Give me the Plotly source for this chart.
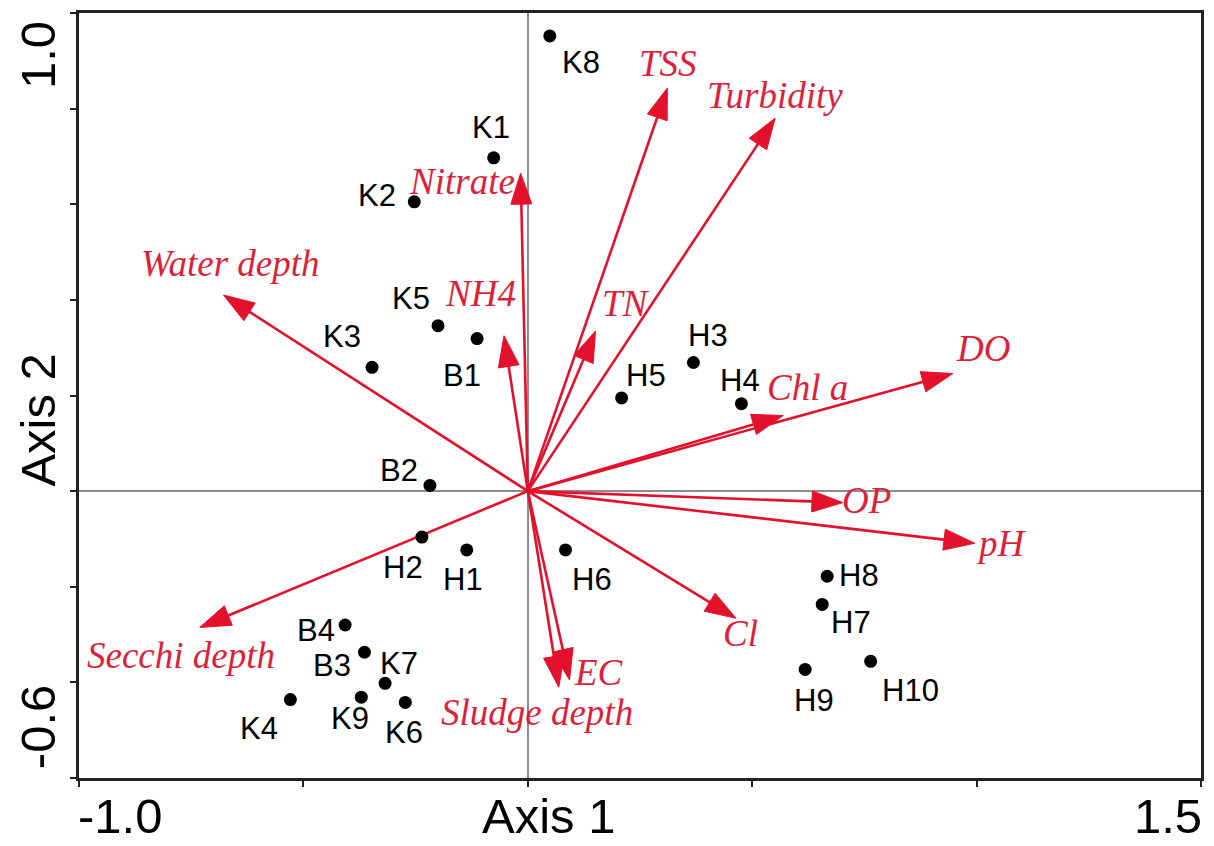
import math
import plotly.graph_objects as go

# ---------------- data ----------------
site_names = ["K8", "K1", "K2", "K5", "B1", "K3", "H3", "H5", "H4", "B2", "H2", "H1",
              "H6", "H8", "H7", "H10", "H9", "B4", "B3", "K7", "K9", "K6", "K4"]
site_x = [0.049, -0.076, -0.253, -0.200, -0.113, -0.347, 0.369, 0.209, 0.476, -0.218, -0.236, -0.136,
          0.084, 0.667, 0.656, 0.764, 0.618, -0.407, -0.364, -0.318, -0.371, -0.273, -0.529]
site_y = [0.952, 0.697, 0.605, 0.346, 0.319, 0.259, 0.269, 0.195, 0.183, 0.012, -0.096, -0.123,
          -0.123, -0.178, -0.237, -0.356, -0.373, -0.280, -0.337, -0.402, -0.431, -0.442, -0.436]

var_names = ["TSS", "Turbidity", "Nitrate", "Water depth", "NH4", "TN", "DO", "Chl a",
             "OP", "pH", "Cl", "EC", "Sludge depth", "Secchi depth"]
var_x = [0.311, 0.551, -0.016, -0.678, -0.053, 0.151, 0.947, 0.569,
         0.702, 0.996, 0.464, 0.093, 0.069, -0.731]
var_y = [0.843, 0.780, 0.665, 0.410, 0.325, 0.335, 0.246, 0.158,
         -0.024, -0.109, -0.266, -0.395, -0.410, -0.285]

x_tick_vals = [-1.0, -0.5, 0.0, 0.5, 1.0, 1.5]
y_tick_vals = [-0.6, -0.4, -0.2, 0.0, 0.2, 0.4, 0.6, 0.8, 1.0]
x_end_labels = ["-1.0", "1.5"]
y_end_labels = ["-0.6", "1.0"]
x_title, y_title = "Axis 1", "Axis 2"

# ---------------- layout constants ----------------
W, H = 1214, 846
ML, MR, MT, MB = 79, 10, 12, 68
X_RANGE = [-1.0, 1.5]
Y_RANGE = [-0.6, 1.0]
PW, PH = W - ML - MR, H - MT - MB
sx = PW / (X_RANGE[1] - X_RANGE[0])
sy = PH / (Y_RANGE[1] - Y_RANGE[0])

RED = "#E3112B"
TEXT_RED = "#DC1F3A"
HEAD_LEN, HEAD_HALF = 31, 10.5

# label offsets in screen pixels (dx right, dy down) relative to the point / arrow tip
site_label_off = {
    "K8": (31, 27), "K1": (-3, -30), "K2": (-37, -6), "K5": (-27, -27), "B1": (-15, 37),
    "K3": (-30, -31), "H3": (15, -27), "H5": (24, -22), "H4": (-1, -23), "B2": (-31, -15),
    "H2": (-19, 30), "H1": (-4, 30), "H6": (26, 30), "H8": (32, -1), "H7": (29, 18),
    "H10": (40, 29), "H9": (9, 31), "B4": (-29, 5), "B3": (-32, 13), "K7": (14, -20),
    "K9": (-11, 21), "K6": (-1, 30), "K4": (-31, 29),
}
var_label_off = {
    "TSS": (1, -25), "Turbidity": (0, -23), "Nitrate": (-59, 8), "Water depth": (6, -32),
    "NH4": (-24, -42), "TN": (30, -27), "DO": (30, -25), "Chl a": (24, -28),
    "OP": (24, -2), "pH": (27, 0), "Cl": (4, 15), "EC": (29, -7),
    "Sludge depth": (-22, 25), "Secchi depth": (-19, 28),
}

# ---------------- build arrow geometry ----------------
line_x, line_y, head_x, head_y = [], [], [], []
for vx, vy in zip(var_x, var_y):
    px, py = vx * sx, vy * sy
    L = math.hypot(px, py)
    ux, uy = px / L, py / L
    bx, by = px - HEAD_LEN * ux, py - HEAD_LEN * uy
    nx, ny = -uy, ux
    line_x += [0, (bx + 4 * ux) / sx, None]
    line_y += [0, (by + 4 * uy) / sy, None]
    head_x += [vx, (bx + HEAD_HALF * nx) / sx, (bx - HEAD_HALF * nx) / sx, vx, None]
    head_y += [vy, (by + HEAD_HALF * ny) / sy, (by - HEAD_HALF * ny) / sy, vy, None]

fig = go.Figure()
fig.add_trace(go.Scatter(x=line_x, y=line_y, mode="lines",
                         line=dict(color=RED, width=2.6), hoverinfo="skip"))
fig.add_trace(go.Scatter(x=head_x, y=head_y, mode="lines", fill="toself",
                         fillcolor=RED, line=dict(color=RED, width=1), hoverinfo="skip"))
fig.add_trace(go.Scatter(x=site_x, y=site_y, mode="markers",
                         marker=dict(color="black", size=13), text=site_names))

annotations = []
for name, x, y in zip(site_names, site_x, site_y):
    dx, dy = site_label_off[name]
    annotations.append(dict(x=x, y=y, xref="x", yref="y", text=name, showarrow=False,
                            xshift=dx, yshift=-dy,
                            font=dict(family="Liberation Sans, Arial, sans-serif", size=31, color="black")))
for name, x, y in zip(var_names, var_x, var_y):
    dx, dy = var_label_off[name]
    annotations.append(dict(x=x, y=y, xref="x", yref="y", text="<i>" + name + "</i>", showarrow=False,
                            xshift=dx, yshift=-dy,
                            font=dict(family="Liberation Serif, Times New Roman, serif", size=37, color=TEXT_RED)))


def paper_x(px):
    return (px - ML) / PW


def paper_y(py):
    return (H - MB - py) / PH


axis_font = dict(family="Liberation Sans, Arial, sans-serif", size=49, color="black")
annotations += [
    dict(x=paper_x(76), y=paper_y(845), xref="paper", yref="paper", text=x_end_labels[0],
         showarrow=False, xanchor="left", yanchor="bottom", font=axis_font),
    dict(x=paper_x(1207), y=paper_y(845), xref="paper", yref="paper", text=x_end_labels[1],
         showarrow=False, xanchor="right", yanchor="bottom", font=axis_font),
    dict(x=paper_x(550), y=paper_y(845), xref="paper", yref="paper", text=x_title,
         showarrow=False, xanchor="center", yanchor="bottom", font=axis_font),
    dict(x=paper_x(38), y=paper_y(54), xref="paper", yref="paper", text=y_end_labels[1],
         showarrow=False, xanchor="center", yanchor="middle", textangle=-90, font=axis_font),
    dict(x=paper_x(38), y=paper_y(727), xref="paper", yref="paper", text=y_end_labels[0],
         showarrow=False, xanchor="center", yanchor="middle", textangle=-90, font=axis_font),
    dict(x=paper_x(38), y=paper_y(420), xref="paper", yref="paper", text=y_title,
         showarrow=False, xanchor="center", yanchor="middle", textangle=-90, font=axis_font),
]

axis_common = dict(showgrid=False, showline=True, linecolor="#222", linewidth=2.5, mirror=True,
                   ticks="outside", ticklen=6, tickwidth=2, tickcolor="#222",
                   showticklabels=False, zeroline=True, zerolinecolor="#8c8c8c", zerolinewidth=1.6)

fig.update_layout(
    width=W, height=H,
    margin=dict(l=ML, r=MR, t=MT, b=MB, pad=0),
    paper_bgcolor="white", plot_bgcolor="white",
    showlegend=False,
    xaxis=dict(range=X_RANGE, tickvals=x_tick_vals, **axis_common),
    yaxis=dict(range=Y_RANGE, tickvals=y_tick_vals, **axis_common),
    annotations=annotations,
)

fig.write_html("out.html")
